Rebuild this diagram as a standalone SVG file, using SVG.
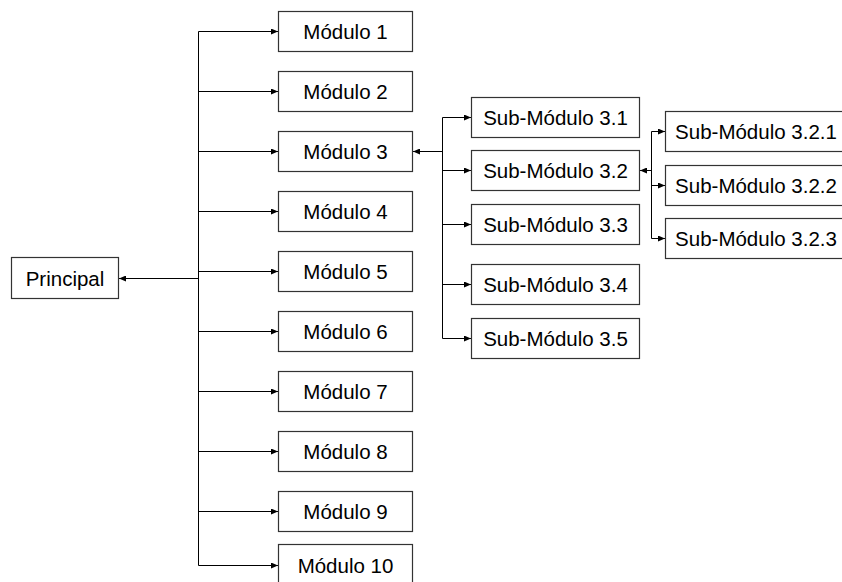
<svg xmlns="http://www.w3.org/2000/svg" width="842" height="582" viewBox="0 0 842 582">
<defs>
<marker id="arr" markerUnits="userSpaceOnUse" markerWidth="7" markerHeight="6" refX="7" refY="3" orient="auto">
<path d="M0,0 L7,3 L0,6 z" fill="#000"/>
</marker>
<style>
.box{fill:#fff;stroke:#333;stroke-width:1.2}
.t{font-family:"Liberation Sans",Arial,sans-serif;font-size:20.5px;fill:#000;text-anchor:middle}
.c{fill:none;stroke:#000;stroke-width:1}
.a{fill:none;stroke:#000;stroke-width:1;marker-end:url(#arr)}
</style>
</defs>
<rect width="842" height="582" fill="#fff"/>
<g id="connectors">
<line class="c" x1="198.5" y1="31.5" x2="198.5" y2="565.5"/>
<line class="a" x1="198.5" y1="278.5" x2="119" y2="278.5"/>
<line class="a" x1="198.5" y1="31.5" x2="278" y2="31.5"/>
<line class="a" x1="198.5" y1="91.5" x2="278" y2="91.5"/>
<line class="a" x1="198.5" y1="151.5" x2="278" y2="151.5"/>
<line class="a" x1="198.5" y1="211.5" x2="278" y2="211.5"/>
<line class="a" x1="198.5" y1="271.5" x2="278" y2="271.5"/>
<line class="a" x1="198.5" y1="331.5" x2="278" y2="331.5"/>
<line class="a" x1="198.5" y1="391.5" x2="278" y2="391.5"/>
<line class="a" x1="198.5" y1="451.5" x2="278" y2="451.5"/>
<line class="a" x1="198.5" y1="511.5" x2="278" y2="511.5"/>
<line class="a" x1="198.5" y1="565.5" x2="278" y2="565.5"/>
<line class="c" x1="442.5" y1="117.5" x2="442.5" y2="338.5"/>
<line class="a" x1="442.5" y1="151.5" x2="413" y2="151.5"/>
<line class="a" x1="442.5" y1="117.5" x2="471" y2="117.5"/>
<line class="a" x1="442.5" y1="170.5" x2="471" y2="170.5"/>
<line class="a" x1="442.5" y1="224.5" x2="471" y2="224.5"/>
<line class="a" x1="442.5" y1="284.5" x2="471" y2="284.5"/>
<line class="a" x1="442.5" y1="338.5" x2="471" y2="338.5"/>
<line class="c" x1="651.5" y1="131.5" x2="651.5" y2="238.5"/>
<line class="a" x1="651.5" y1="170.5" x2="640" y2="170.5"/>
<line class="a" x1="651.5" y1="131.5" x2="665" y2="131.5"/>
<line class="a" x1="651.5" y1="185.5" x2="665" y2="185.5"/>
<line class="a" x1="651.5" y1="238.5" x2="665" y2="238.5"/>
</g>
<g id="principal"><rect class="box" x="11.5" y="257.5" width="107" height="41"/><text class="t" x="65" y="285.5">Principal</text></g>
<g id="modulo1"><rect class="box" x="278.5" y="11.5" width="134" height="40"/><text class="t" x="345.5" y="38.5">Módulo 1</text></g>
<g id="modulo2"><rect class="box" x="278.5" y="71.5" width="134" height="40"/><text class="t" x="345.5" y="98.5">Módulo 2</text></g>
<g id="modulo3"><rect class="box" x="278.5" y="131.5" width="134" height="40"/><text class="t" x="345.5" y="158.5">Módulo 3</text></g>
<g id="modulo4"><rect class="box" x="278.5" y="191.5" width="134" height="40"/><text class="t" x="345.5" y="218.5">Módulo 4</text></g>
<g id="modulo5"><rect class="box" x="278.5" y="251.5" width="134" height="40"/><text class="t" x="345.5" y="278.5">Módulo 5</text></g>
<g id="modulo6"><rect class="box" x="278.5" y="311.5" width="134" height="40"/><text class="t" x="345.5" y="338.5">Módulo 6</text></g>
<g id="modulo7"><rect class="box" x="278.5" y="371.5" width="134" height="40"/><text class="t" x="345.5" y="398.5">Módulo 7</text></g>
<g id="modulo8"><rect class="box" x="278.5" y="431.5" width="134" height="40"/><text class="t" x="345.5" y="458.5">Módulo 8</text></g>
<g id="modulo9"><rect class="box" x="278.5" y="491.5" width="134" height="40"/><text class="t" x="345.5" y="518.5">Módulo 9</text></g>
<g id="modulo10"><rect class="box" x="278.5" y="544.5" width="134" height="60"/><text class="t" x="345.5" y="573">Módulo 10</text></g>
<g id="sub31"><rect class="box" x="471.5" y="97.5" width="168" height="40"/><text class="t" x="555.5" y="124.5">Sub-Módulo 3.1</text></g>
<g id="sub32"><rect class="box" x="471.5" y="150.5" width="168" height="40"/><text class="t" x="555.5" y="177.5">Sub-Módulo 3.2</text></g>
<g id="sub33"><rect class="box" x="471.5" y="204.5" width="168" height="40"/><text class="t" x="555.5" y="231.5">Sub-Módulo 3.3</text></g>
<g id="sub34"><rect class="box" x="471.5" y="264.5" width="168" height="40"/><text class="t" x="555.5" y="291.5">Sub-Módulo 3.4</text></g>
<g id="sub35"><rect class="box" x="471.5" y="318.5" width="168" height="40"/><text class="t" x="555.5" y="345.5">Sub-Módulo 3.5</text></g>
<g id="sub321"><rect class="box" x="665.5" y="111.5" width="182" height="40"/><text class="t" x="756" y="138.5">Sub-Módulo 3.2.1</text></g>
<g id="sub322"><rect class="box" x="665.5" y="165.5" width="182" height="40"/><text class="t" x="756" y="192.5">Sub-Módulo 3.2.2</text></g>
<g id="sub323"><rect class="box" x="665.5" y="218.5" width="182" height="40"/><text class="t" x="756" y="245.5">Sub-Módulo 3.2.3</text></g>
</svg>
